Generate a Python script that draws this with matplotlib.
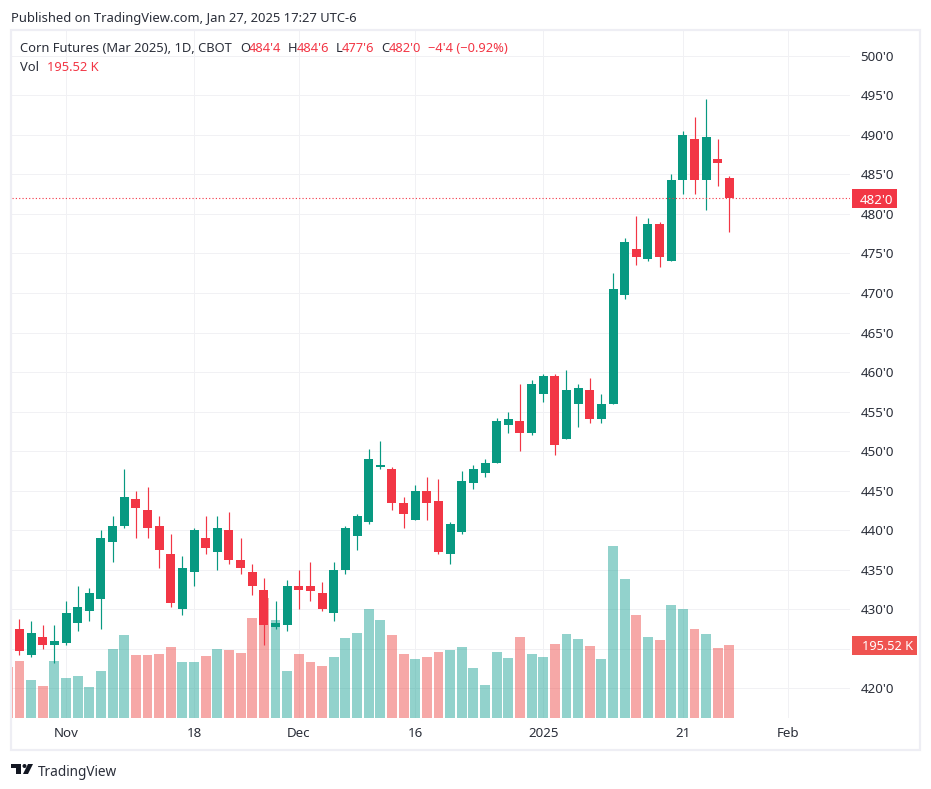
import matplotlib
matplotlib.use("Agg")
import matplotlib.pyplot as plt
from matplotlib.patches import Rectangle, Polygon, Ellipse

W, H = 931, 789
plt.rcParams["font.family"] = ["Noto Sans", "DejaVu Sans"]

GREEN = "#089981"
RED = "#F23645"
VOL_GREEN = "#26a69a"
VOL_RED = "#ef5350"
GRID = "#f1f1f4"
BORDER = "#eeeef4"
TEXT = "#2a2e39"

# daily prices, cents per bushel
opens = [434.25, 427.5, 424.25, 426.5, 425.5, 425.75, 428.25, 429.75, 431.25, 438.5,
         440.5, 444, 442.5, 440.5, 437, 430, 434.75, 439, 437.25, 440,
         436.25, 434.75, 432.5, 427.75, 428, 433, 433, 432, 429.5, 435,
         439.25, 441, 448, 447.75, 443.5, 441.25, 445, 443.75, 437, 439.75,
         446, 447.25, 448.5, 453.25, 453.75, 452.25, 457.25, 459.5, 451.5, 456,
         457.75, 454, 456, 469.75, 475.5, 474.25, 478.75, 474, 484.25, 489.5,
         484.25, 487, 484.5]
highs = [434.25, 428.75, 428.5, 428, 428, 431, 433, 432.75, 440, 441.75,
         447.75, 445, 445.5, 441.75, 439.5, 436.75, 440.25, 441.75, 441.75, 442.25,
         439, 435.75, 434, 431, 433.75, 435, 436, 433.5, 436, 440.5,
         442, 450.25, 451.25, 448, 444.25, 445.75, 446.75, 446.5, 441, 447.5,
         448.25, 449, 454.25, 455, 458.5, 459, 459.75, 459.75, 460.25, 458.5,
         459.25, 457.25, 472.5, 477, 479.75, 479.5, 479, 485, 490.5, 492.25,
         494.5, 489.5, 484.75]
lows = [429.5, 424.25, 424, 425, 423.25, 425.5, 427.25, 428.5, 427.5, 436,
        440.25, 439, 439, 435.25, 430.25, 429.25, 433, 437, 435, 435.75,
        434.5, 431.75, 425.5, 427.5, 427.25, 430, 431, 429.75, 428.5, 434.5,
        437.5, 440.75, 447.75, 442.5, 440.25, 441.25, 441.25, 437, 435.75, 439.5,
        445.25, 446.75, 448.5, 452.25, 450, 452, 456.25, 449.5, 451.5, 453,
        453.5, 453.5, 456, 469.25, 473.5, 474, 473.25, 474, 482.5, 482.5,
        480.5, 483.5, 477.75]
closes = [429.5, 424.75, 427, 425.5, 426, 429.5, 430.25, 432, 439, 440.5,
          444.25, 442.75, 440.25, 437.5, 430.75, 435.25, 440, 437.75, 440.25, 436.25,
          435.25, 433, 428, 428.25, 433, 432.5, 432.25, 430, 435, 440.25,
          441.75, 449, 448.25, 443.5, 442, 445, 443.5, 437.25, 440.75, 446.25,
          447.75, 448.5, 453.75, 454, 452.25, 458.5, 459.5, 450.75, 457.75, 458,
          454, 456, 470.5, 476.5, 474.5, 478.75, 474.5, 484.25, 490, 484.25,
          489.75, 486.5, 482]
# volume, thousands of contracts
volumes = [136.6, 152.7, 101.8, 85.7, 152.7, 107.1, 112.5, 83.0, 125.9, 184.8,
           222.3, 168.7, 168.7, 171.4, 190.1, 150.0, 150.0, 166.0, 184.8, 182.1,
           174.1, 267.8, 321.4, 262.4, 125.9, 171.4, 150.0, 139.3, 163.4, 214.2,
           227.6, 291.9, 262.4, 222.3, 171.4, 158.0, 163.4, 176.8, 182.1, 190.1,
           133.9, 88.4, 176.8, 160.7, 216.9, 171.4, 163.4, 198.2, 225.0, 211.6,
           192.8, 158.0, 460.6, 372.3, 275.8, 216.9, 208.9, 302.6, 291.9, 238.4,
           225.0, 187.5, 195.52]

price_ticks = list(range(420, 505, 5))
date_ticks = [5, 16, 25, 35, 46, 58, 67]
date_labels = ["Nov", "18", "Dec", "16", "2025", "21", "Feb"]
last_price = 482


def fx(x):
    return x / W


def fy(y):
    return 1 - y / H


fig = plt.figure(figsize=(W / 100, H / 100), dpi=100, facecolor="white")
ax = fig.add_axes([fx(12), fy(718), 838 / W, 687 / H])
ax.set_xlim(0.356, 72.36)
ax.set_ylim(416.25, 503.13)
for s in ax.spines.values():
    s.set_visible(False)

ax.set_axisbelow(True)
ax.grid(True, color=GRID, linewidth=0.72)

# volume shares the price axis, scaled so 195.52K is about 9.2 price units tall
vol_scale = 0.04722
base = ax.get_ylim()[0]
xs = list(range(len(opens)))
vol_colors = [VOL_GREEN if c >= o else VOL_RED for o, c in zip(opens, closes)]
ax.bar(xs, [v * vol_scale for v in volumes], bottom=base, width=0.85,
       color=vol_colors, alpha=0.5, linewidth=0, zorder=2)

# candles
colors = [GREEN if c >= o else RED for o, c in zip(opens, closes)]
ax.vlines(xs, lows, highs, colors=colors, linewidth=0.85, zorder=3)
ax.bar(xs, [abs(c - o) for o, c in zip(opens, closes)],
       bottom=[min(o, c) for o, c in zip(opens, closes)],
       width=0.773, color=colors, linewidth=0, zorder=4)

ax.axhline(last_price, color=RED, linewidth=0.8, linestyle=(0, (1, 2)), zorder=5)

ax.yaxis.tick_right()
ax.set_yticks(price_ticks)
# 425 sits behind the volume tag in the reference
ax.set_yticklabels(["" if p == 425 else f"{p}'0" for p in price_ticks])
ax.set_xticks(date_ticks)
ax.set_xticklabels(date_labels)
ax.tick_params(axis="both", length=0, labelsize=9.6, labelcolor=TEXT)
ax.tick_params(axis="y", pad=7.5)
ax.tick_params(axis="x", pad=6.5)
ax.get_xticklabels()[4].set_fontweight("bold")

# frame around the chart
fig.add_artist(Rectangle((fx(11), fy(750)), 909 / W, 720 / H, transform=fig.transFigure,
                         fill=False, edgecolor=BORDER, linewidth=1.6))
fig.add_artist(Rectangle((fx(852), fy(208)), 45 / W, 19 / H, transform=fig.transFigure,
                         facecolor=RED, edgecolor="none"))
fig.text(fx(876.5), fy(198.5), "482'0", color="white", fontsize=9.6, ha="center",
         va="center_baseline")
fig.add_artist(Rectangle((fx(852), fy(655)), 65 / W, 19 / H, transform=fig.transFigure,
                         facecolor=VOL_RED, edgecolor="none"))
fig.text(fx(887), fy(645.5), "195.52 K", color="white", fontsize=9.2, ha="center",
         va="center_baseline")

fig.text(fx(11), fy(17), "Published on TradingView.com, Jan 27, 2025 17:27 UTC-6",
         color=TEXT, fontsize=9.35, va="center_baseline")

# legend rows
legend = [(20, "Corn Futures (Mar 2025), 1D, CBOT", TEXT), (240, "O", TEXT), (249, "484'4", RED),
          (288, "H", TEXT), (297, "484'6", RED), (336, "L", TEXT), (342, "477'6", RED),
          (381, "C", TEXT), (389, "482'0", RED), (428, "\u22124'4 (\u22120.92%)", RED)]
for x, s, c in legend:
    fig.text(fx(x), fy(47), s, color=c, fontsize=9.3, va="center_baseline")
fig.text(fx(20), fy(66), "Vol", color=TEXT, fontsize=9.3, va="center_baseline")
fig.text(fx(47), fy(66), "195.52 K", color=RED, fontsize=9.3, va="center_baseline")

# logo
LOGO = "#131722"
fig.add_artist(Polygon([(fx(11), fy(764)), (fx(21), fy(764)), (fx(21), fy(774)), (fx(16), fy(774)),
                        (fx(16), fy(768)), (fx(11), fy(768))], transform=fig.transFigure,
                       facecolor=LOGO, edgecolor="none"))
fig.add_artist(Ellipse((fx(24.5), fy(766)), 4 / W, 4 / H, transform=fig.transFigure,
                       facecolor=LOGO, edgecolor="none"))
fig.add_artist(Polygon([(fx(28), fy(764)), (fx(33), fy(764)), (fx(28), fy(774)), (fx(23), fy(774))],
                       transform=fig.transFigure, facecolor=LOGO, edgecolor="none"))
fig.text(fx(38), fy(770), "TradingView", color=TEXT, fontsize=9.8, va="center_baseline")

fig.savefig("out.png", dpi=100, facecolor="white")
